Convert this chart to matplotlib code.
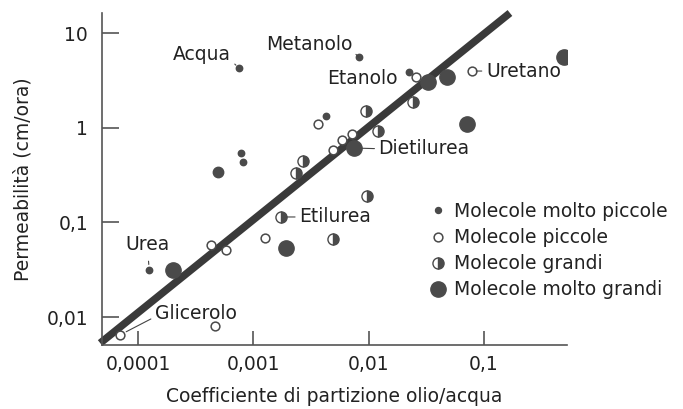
import numpy as np
import matplotlib
matplotlib.use("Agg")
import matplotlib.pyplot as plt
from matplotlib.lines import Line2D

# coefficiente di partizione (x) e permeabilita (y)
mp_x = [7.5e-4, 8.2e-3, 0.0224, 4.27e-3, 7.8e-4, 8.1e-4, 1.25e-4]
mp_y = [4.27, 5.57, 3.87, 1.33, 0.54, 0.434, 0.0314]

p_x = [3.64e-3, 0.0257, 0.0787, 5.87e-3, 7.18e-3, 4.91e-3,
       4.3e-4, 5.8e-4, 1.26e-3, 6.98e-5, 4.65e-4]
p_y = [1.09, 3.43, 3.97, 0.741, 0.857, 0.581,
       0.0577, 0.051, 0.0684, 0.00646, 0.00803]

g_x = [2.7e-3, 2.34e-3, 9.48e-3, 0.0242, 0.0120, 9.7e-3, 1.74e-3, 4.91e-3]
g_y = [0.445, 0.332, 1.50, 1.87, 0.922, 0.190, 0.114, 0.0667]

mg_x = [2.01e-4, 1.92e-3, 7.46e-3, 0.0327, 0.0477, 0.494, 0.0713]
mg_y = [0.0314, 0.0536, 0.61, 3.03, 3.43, 5.57, 1.09]

# punto isolato, piu piccolo degli altri "molto grandi"
extra_x = [4.94e-4]
extra_y = [0.340]

retta_x = [4.7e-5, 0.168]
retta_y = [0.0053, 16.3]

x_ticks = [1e-4, 1e-3, 1e-2, 1e-1]
x_labels = ["0,0001", "0,001", "0,01", "0,1"]
y_ticks = [0.01, 0.1, 1, 10]
y_labels = ["0,01", "0,1", "1", "10"]

grigio = "#4a4a4a"
testo = "#222222"
fs = 13.5

fig = plt.figure(figsize=(6.83, 4.09), dpi=100)
ax = fig.add_axes([102/683, 1-345/409, 465/683, 332/409])

ax.plot(retta_x, retta_y, color="#3a3a3a", lw=5.4, solid_capstyle="butt",
        clip_on=False, zorder=2)

ax.plot(mp_x, mp_y, ls="none", marker="o", ms=4.6, mfc=grigio, mec=grigio, zorder=3)
ax.plot(p_x, p_y, ls="none", marker="o", ms=6.3, mfc="white", mec=grigio,
        mew=1.1, zorder=3)
ax.plot(g_x, g_y, ls="none", marker="o", ms=8, fillstyle="right", mfc=grigio,
        mfcalt="white", mec=grigio, mew=1.0, zorder=3)
ax.plot(mg_x, mg_y, ls="none", marker="o", ms=11, mfc=grigio, mec=grigio, zorder=3)
ax.plot(extra_x, extra_y, ls="none", marker="o", ms=7.5, mfc=grigio, mec=grigio,
        zorder=3)

ax.set_xscale("log")
ax.set_yscale("log")
ax.set_xlim(4.87e-5, 0.525)
ax.set_ylim(0.00506, 16.3)
ax.set_xticks(x_ticks)
ax.set_xticklabels(x_labels)
ax.set_yticks(y_ticks)
ax.set_yticklabels(y_labels)
ax.minorticks_off()

for s in ["top", "right"]:
    ax.spines[s].set_visible(False)
for s in ["left", "bottom"]:
    ax.spines[s].set_color("#555555")
    ax.spines[s].set_linewidth(1.2)
ax.tick_params(axis="y", direction="in", length=12, width=1.2, color="#555555",
               labelsize=fs, labelcolor=testo, pad=10)
ax.tick_params(axis="x", direction="in", length=10, width=1.2, color="#555555",
               labelsize=fs, labelcolor=testo, pad=7)

ax.set_xlabel("Coefficiente di partizione olio/acqua", fontsize=fs, color=testo)
ax.xaxis.set_label_coords(0.5, -0.125)
ax.set_ylabel("Permeabilità (cm/ora)", fontsize=fs, color=testo)
ax.yaxis.set_label_coords(-0.15, 0.5)

lead = dict(arrowstyle="-", color="#444444", lw=0.8, shrinkA=1, shrinkB=3)
ax.annotate("Acqua", xy=(mp_x[0], mp_y[0]), xytext=(6.4e-4, 5.9), ha="right",
            va="center", fontsize=fs, color=testo,
            arrowprops=dict(lead, relpos=(1, 0.2)))
ax.annotate("Metanolo", xy=(mp_x[1], mp_y[1]), xytext=(7.2e-3, 7.5), ha="right",
            va="center", fontsize=fs, color=testo,
            arrowprops=dict(lead, relpos=(1, 0.2)))
ax.text(0.0180, 3.35, "Etanolo", ha="right", va="center", fontsize=fs, color=testo)
ax.annotate("Uretano", xy=(p_x[2], p_y[2]), xytext=(0.104, 3.97), ha="left",
            va="center", fontsize=fs, color=testo,
            arrowprops=dict(lead, relpos=(0, 0.5)))
ax.annotate("Dietilurea", xy=(mg_x[2], mg_y[2]), xytext=(0.0122, 0.6), ha="left",
            va="center", fontsize=fs, color=testo,
            arrowprops=dict(lead, relpos=(0, 0.5), shrinkB=6))
ax.annotate("Etilurea", xy=(g_x[6], g_y[6]), xytext=(2.5e-3, 0.114), ha="left",
            va="center", fontsize=fs, color=testo,
            arrowprops=dict(lead, relpos=(0, 0.5), shrinkB=4))
ax.annotate("Urea", xy=(mp_x[6], mp_y[6]), xytext=(1.22e-4, 0.058), ha="center",
            va="center", fontsize=fs, color=testo,
            arrowprops=dict(lead, relpos=(0.5, 0), shrinkA=3, shrinkB=4))
ax.annotate("Glicerolo", xy=(p_x[9], p_y[9]), xytext=(1.40e-4, 0.0110), ha="left",
            va="center", fontsize=fs, color=testo,
            arrowprops=dict(lead, relpos=(0, 0.3), shrinkB=5))

handles = [
    Line2D([], [], ls="none", marker="o", ms=4.3, mfc=grigio, mec=grigio),
    Line2D([], [], ls="none", marker="o", ms=6.3, mfc="white", mec=grigio, mew=1.1),
    Line2D([], [], ls="none", marker="o", ms=8, fillstyle="right", mfc=grigio,
           mfcalt="white", mec=grigio),
    Line2D([], [], ls="none", marker="o", ms=11, mfc=grigio, mec=grigio),
]
labels = ["Molecole molto piccole", "Molecole piccole", "Molecole grandi",
          "Molecole molto grandi"]
leg = fig.legend(handles, labels, loc="upper left",
                 bbox_to_anchor=(429/683, 1-202/409), frameon=False,
                 fontsize=fs, handlelength=0.95, handletextpad=0.4,
                 labelspacing=0.38, borderpad=0, borderaxespad=0)
for t in leg.get_texts():
    t.set_color(testo)

fig.savefig("out.png", dpi=100)
